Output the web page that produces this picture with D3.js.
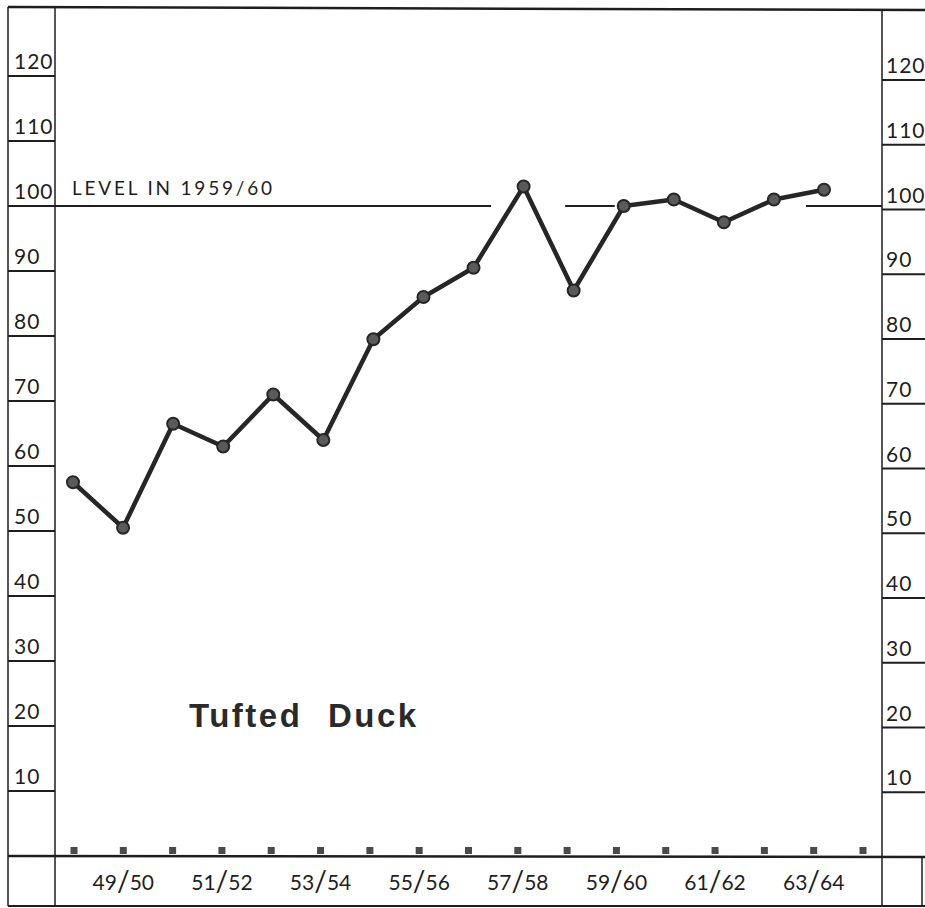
<!DOCTYPE html>
<html><head><meta charset="utf-8">
<script src="https://cdn.jsdelivr.net/npm/d3@7"></script>
<style>body{margin:0;background:#fff} svg{display:block}</style>
</head><body><svg id="c" width="925" height="908"></svg>
<script>
// ---- data ----
const seasons = ["48/49","49/50","50/51","51/52","52/53","53/54","54/55","55/56","56/57","57/58","58/59","59/60","60/61","61/62","62/63","63/64"];
const values  = [57.5, 50.5, 66.5, 63, 71, 64, 79.5, 86, 90.5, 103, 87, 100, 101, 97.5, 101, 102.5];
const tickSeasons = ["48/49","49/50","50/51","51/52","52/53","53/54","54/55","55/56","56/57","57/58","58/59","59/60","60/61","61/62","62/63","63/64","64/65"];
const labelSeasons = ["49/50","51/52","53/54","55/56","57/58","59/60","61/62","63/64"];
const yTicks = [10,20,30,40,50,60,70,80,90,100,110,120];
const referenceLevel = 100;
const referenceLabel = "LEVEL IN 1959/60";
const levelSegments = [[-0.36, 8.35], [9.83, 10.82], [14.64, 16.16]]; // in season-index units
const title = "Tufted Duck";

// ---- drawing ----
const svg = d3.select("#c");
const ink = "#1e1e1e";
const font = "Lato, 'DejaVu Sans', sans-serif";

const xData = d3.scaleLinear().domain([0, seasons.length - 1]).range([73, 824]);
const xTick = d3.scaleLinear().domain([0, tickSeasons.length - 1]).range([74, 863]);
const y = d3.scaleLinear().domain([0, 120]).range([856, 76]);
const yR = d3.scaleLinear().domain([0, 120]).range([857, 80]);

const L = 8, AX = 55, RX = 882, R = 925, TOP = 7, BOT = 906;

const frame = svg.append("g").attr("stroke", ink).attr("fill", "none");
frame.append("line").attr("x1", L).attr("x2", R).attr("y1", TOP).attr("y2", TOP + 3).attr("stroke-width", 2.5);
frame.append("line").attr("x1", L).attr("x2", L).attr("y1", TOP).attr("y2", BOT).attr("stroke-width", 1.5);
frame.append("line").attr("x1", AX).attr("x2", AX).attr("y1", TOP).attr("y2", BOT).attr("stroke-width", 1.5);
frame.append("line").attr("x1", RX).attr("x2", RX).attr("y1", TOP + 3).attr("y2", BOT).attr("stroke-width", 1.5);
frame.append("line").attr("x1", 922).attr("x2", 922).attr("y1", yR(0)).attr("y2", BOT).attr("stroke-width", 1.5);
frame.append("line").attr("x1", L).attr("x2", R).attr("y1", BOT).attr("y2", BOT).attr("stroke-width", 2);
frame.append("line").attr("x1", L).attr("x2", R).attr("y1", y(0)).attr("y2", yR(0)).attr("stroke-width", 2.5);

// left ticks & labels
const lt = svg.append("g");
lt.selectAll("line").data(yTicks).join("line")
  .attr("x1", L).attr("x2", AX).attr("y1", d => y(d)).attr("y2", d => y(d))
  .attr("stroke", ink).attr("stroke-width", 2);
lt.selectAll("text").data(yTicks).join("text")
  .attr("x", 14).attr("y", d => y(d) - 7)
  .attr("font-family", font).attr("font-size", 21).attr("fill", ink)
  .attr("letter-spacing", 1)
  .text(d => d);

// right ticks & labels
const rt = svg.append("g");
rt.selectAll("line").data(yTicks).join("line")
  .attr("x1", RX).attr("x2", R).attr("y1", d => yR(d)).attr("y2", d => yR(d))
  .attr("stroke", ink).attr("stroke-width", 2);
rt.selectAll("text").data(yTicks).join("text")
  .attr("x", 886).attr("y", d => yR(d) - 7)
  .attr("font-family", font).attr("font-size", 21).attr("fill", ink)
  .attr("letter-spacing", 1)
  .text(d => d);

// reference level segments
svg.append("g").selectAll("line").data(levelSegments).join("line")
  .attr("x1", d => Math.max(AX, xData(d[0]))).attr("x2", d => Math.min(RX, xData(d[1])))
  .attr("y1", y(referenceLevel)).attr("y2", y(referenceLevel))
  .attr("stroke", ink).attr("stroke-width", 1.8);
svg.append("text").attr("x", 72).attr("y", 195)
  .attr("font-family", font).attr("font-size", 19).attr("fill", ink)
  .attr("letter-spacing", 2.8).text(referenceLabel);

// season tick squares
svg.append("g").selectAll("rect").data(tickSeasons).join("rect")
  .attr("x", (d, i) => xTick(i) - 3.5).attr("y", y(0) - 9).attr("width", 7).attr("height", 7)
  .attr("fill", "#4a4a4a");

// season labels
const lab = svg.append("g").selectAll("text").data(labelSeasons).join("text")
  .attr("x", d => xTick(tickSeasons.indexOf(d))).attr("y", 890)
  .attr("text-anchor", "middle")
  .attr("font-family", font).attr("font-size", 21).attr("fill", ink);
lab.each(function(d) {
  const [a, b] = d.split("/");
  const t = d3.select(this);
  t.append("tspan").text(a);
  t.append("tspan").attr("font-size", 28).attr("dy", 1).text("/");
  t.append("tspan").attr("dy", -1).text(b);
});

// data line
const pts = values.map((v, i) => [xData(i), y(v)]);
svg.append("path").attr("d", d3.line()(pts))
  .attr("fill", "none").attr("stroke", "#262626").attr("stroke-width", 4.5)
  .attr("stroke-linejoin", "round");
svg.append("g").selectAll("circle").data(values).join("circle")
  .attr("cx", (d, i) => xData(i)).attr("cy", d => y(d)).attr("r", 6)
  .attr("fill", "#5a5a5a").attr("stroke", "#262626").attr("stroke-width", 2);

// title
svg.append("text").attr("x", 189).attr("y", 727)
  .attr("font-family", "'Liberation Sans', Arial, sans-serif").attr("font-weight", "bold")
  .attr("font-size", 33).attr("fill", "#2a2a2a")
  .attr("letter-spacing", 2.5).attr("word-spacing", 14)
  .text(title);
</script></body></html>
